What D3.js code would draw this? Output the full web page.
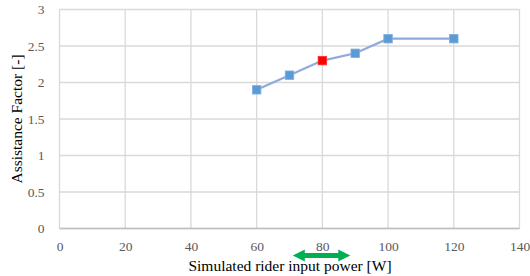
<!DOCTYPE html>
<html><head><meta charset="utf-8">
<script src="https://cdn.jsdelivr.net/npm/d3@7"></script>
<style>body{margin:0;background:#fff}svg{display:block}</style>
</head><body>
<svg id="c" width="530" height="276"></svg>
<script>
const powers = [60, 70, 80, 90, 100, 120];
const factors = [1.9, 2.1, 2.3, 2.4, 2.6, 2.6];
const highlightPower = 80;
const xTicks = [0, 20, 40, 60, 80, 100, 120, 140];
const yTicks = [0, 0.5, 1, 1.5, 2, 2.5, 3];
const arrowRange = [71, 88.5];
const xTitle = "Simulated rider input power [W]";
const yTitle = "Assistance Factor [-]";

const FONT = "'Times New Roman', 'Liberation Serif', serif";
const svg = d3.select("#c").style("font-family", FONT);
const x = d3.scaleLinear().domain([0, 140]).range([59.5, 519.5]);
const y = d3.scaleLinear().domain([0, 3]).range([228.5, 9.5]);

// grid
svg.append("g").selectAll("line").data(xTicks).join("line")
  .attr("x1", d => x(d)).attr("x2", d => x(d)).attr("y1", y(0)).attr("y2", y(3))
  .attr("stroke", "#d9d9d9").attr("stroke-width", 1.3);
svg.append("g").selectAll("line").data(yTicks).join("line")
  .attr("x1", x(0)).attr("x2", x(140)).attr("y1", d => y(d)).attr("y2", d => y(d))
  .attr("stroke", "#d9d9d9").attr("stroke-width", 1.3);
svg.append("line").attr("x1", x(0)).attr("x2", x(140)).attr("y1", y(0)).attr("y2", y(0))
  .attr("stroke", "#bfbfbf").attr("stroke-width", 1.3);

// tick labels
const xa = svg.append("g").attr("transform", `translate(0,${y(0) + 10})`)
  .call(d3.axisBottom(x).tickValues(xTicks).tickSize(0).tickFormat(d3.format("d")));
xa.attr("font-family", null).style("font-family", FONT);
xa.select(".domain").remove();
xa.selectAll("text").style("font-family", FONT).attr("font-size", 13.5).attr("fill", "#595959").attr("dy", "0.71em");

const ya = svg.append("g").attr("transform", `translate(${x(0) - 12},0)`)
  .call(d3.axisLeft(y).tickValues(yTicks).tickSize(0).tickFormat(d => String(d)));
ya.attr("font-family", null).style("font-family", FONT);
ya.select(".domain").remove();
ya.selectAll("text").style("font-family", FONT).attr("font-size", 13.5).attr("fill", "#595959");

// titles
svg.append("text").attr("x", 290).attr("y", 271).attr("text-anchor", "middle")
  .style("font-family", FONT).attr("font-size", 15.5).attr("fill", "#000").text(xTitle);
svg.append("text").attr("transform", `translate(22,119) rotate(-90)`).attr("text-anchor", "middle")
  .style("font-family", FONT).attr("font-size", 15.5).attr("fill", "#000").text(yTitle);

// line
const pts = powers.map((p, i) => [p, factors[i]]);
svg.append("path").datum(pts)
  .attr("d", d3.line().x(d => x(d[0])).y(d => y(d[1])))
  .attr("fill", "none").attr("stroke", "#8faadc").attr("stroke-width", 2.2);

// markers
const s = 8.5;
svg.append("g").selectAll("rect").data(pts).join("rect")
  .attr("x", d => x(d[0]) - s / 2).attr("y", d => y(d[1]) - s / 2)
  .attr("width", s).attr("height", s)
  .attr("fill", d => d[0] === highlightPower ? "#ff0000" : "#5b9bd5")
  .attr("stroke", d => d[0] === highlightPower ? "#ff3333" : "#7fb0e0").attr("stroke-width", 0.8);

// green double arrow
const ax0 = x(arrowRange[0]), ax1 = x(arrowRange[1]), ay = 255.5, hw = 6, hl = 12, sw = 2.6;
svg.append("path")
  .attr("d", `M${ax0},${ay} L${ax0 + hl},${ay - hw} L${ax0 + hl},${ay - sw} L${ax1 - hl},${ay - sw} L${ax1 - hl},${ay - hw} L${ax1},${ay} L${ax1 - hl},${ay + hw} L${ax1 - hl},${ay + sw} L${ax0 + hl},${ay + sw} L${ax0 + hl},${ay + hw} Z`)
  .attr("fill", "#00b050");
</script>
</body></html>
